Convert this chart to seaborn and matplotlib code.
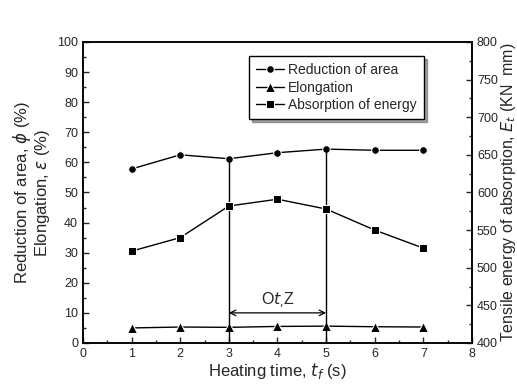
import matplotlib.pyplot as plt
import seaborn as sns
from matplotlib.ticker import MultipleLocator

# data
heating_time = [1, 2, 3, 4, 5, 6, 7]
reduction_area = [57.8, 62.5, 61.2, 63.2, 64.4, 64.0, 64.0]
elongation = [5.0, 5.3, 5.2, 5.5, 5.6, 5.4, 5.3]
absorption_energy = [522, 540, 582, 591, 578, 550, 526]
window = [3, 5]  # optimum heating range

sns.set_style('ticks')
plt.rcParams['font.family'] = ['Liberation Sans', 'DejaVu Sans']
plt.rcParams['mathtext.fontset'] = 'dejavusans'

fig = plt.figure(figsize=(5.17, 3.88), dpi=100)
ax = fig.add_axes([0.1605, 0.116, 0.7525, 0.776])
ax2 = ax.twinx()

sns.lineplot(x=heating_time, y=reduction_area, ax=ax, color='black', marker='o',
             markersize=5.5, lw=1, label='Reduction of area', legend=False)
sns.lineplot(x=heating_time, y=elongation, ax=ax, color='black', marker='^',
             markersize=6.5, lw=1, label='Elongation', legend=False)
sns.lineplot(x=heating_time, y=absorption_energy, ax=ax2, color='black', marker='s',
             markersize=5.5, lw=1, label='Absorption of energy', legend=False)

# vertical lines marking the optimum window
for t in window:
    ax.vlines(t, 0, reduction_area[heating_time.index(t)], color='black', lw=1)
ax.annotate('', xy=(window[0], 10), xytext=(window[1], 10),
            arrowprops=dict(arrowstyle='<->', color='black', lw=0.9, shrinkA=0, shrinkB=0))
ax.text(4, 11, r'O$\it{t}_{,}$Z', ha='center', va='bottom', fontsize=11.5)

ax.set_xlim(0, 8)
ax.set_ylim(0, 100)
ax2.set_ylim(400, 800)
ax.xaxis.set_major_locator(MultipleLocator(1))
ax.xaxis.set_minor_locator(MultipleLocator(0.5))
ax.yaxis.set_major_locator(MultipleLocator(10))
ax.yaxis.set_minor_locator(MultipleLocator(5))
ax2.yaxis.set_major_locator(MultipleLocator(50))
ax2.yaxis.set_minor_locator(MultipleLocator(25))

for a in (ax, ax2):
    a.tick_params(which='both', direction='in', labelsize=9, width=1)
    a.tick_params(which='major', length=4)
    a.tick_params(which='minor', length=2)
    for s in a.spines.values():
        s.set_linewidth(1.1)
        s.set_color('black')

ax.set_xlabel(r'Heating time, $t_f$ (s)', fontsize=12, labelpad=1)
ax.set_ylabel('Reduction of area, $\\phi$ (%)\nElongation, $\\varepsilon$ (%)',
              fontsize=12, labelpad=4, linespacing=1.0)
ax2.set_ylabel(r'Tensile energy of absorption, $E_t$ (KN  mm)', fontsize=11.5, labelpad=1)

h1, l1 = ax.get_legend_handles_labels()
h2, l2 = ax2.get_legend_handles_labels()
ax.legend(h1 + h2, l1 + l2, loc='upper left', bbox_to_anchor=(0.41, 0.975),
          fontsize=10, frameon=True, fancybox=False, shadow=True, edgecolor='black',
          framealpha=1, handlelength=2.0, handletextpad=0.3, borderpad=0.5,
          labelspacing=0.25)

fig.savefig('out.png', dpi=100)
